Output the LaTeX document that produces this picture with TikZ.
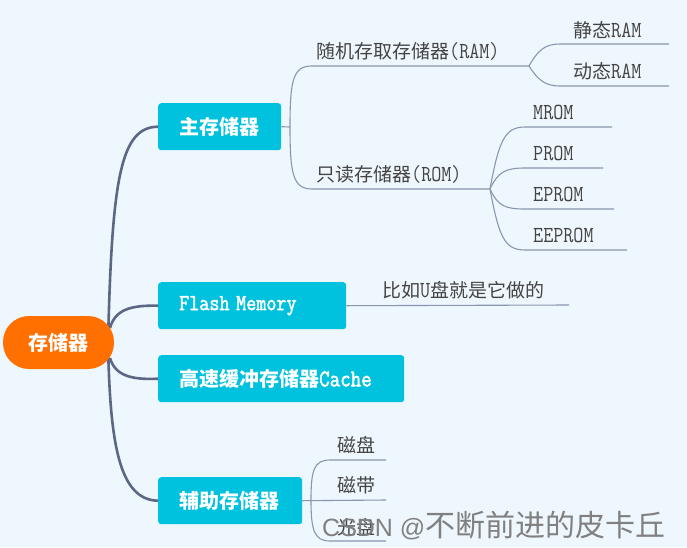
\documentclass[tikz,border=0pt]{standalone}
\usepackage{fontspec}
\newfontfamily\cjk{Noto Sans CJK SC}
\newfontfamily\wmsans{Liberation Sans}
\newfontfamily\narrowtt{Latin Modern Mono}[FakeStretch=0.85]
\newfontfamily\narrowttb{Latin Modern Mono}[FakeStretch=0.85, FakeBold=2]
\newcommand\mytt[1]{{\narrowtt\fontsize{23}{23}\selectfont #1}}
\definecolor{bgc}{HTML}{EEF7FD}
\definecolor{boxc}{HTML}{00C1DE}
\definecolor{rootc}{HTML}{FF7000}
\definecolor{trunkc}{HTML}{5B6785}
\definecolor{subc}{HTML}{8A96B0}
\definecolor{labc}{HTML}{444444}
\tikzset{
  box/.style={fill=boxc, rounded corners=3pt, inner xsep=21pt, inner ysep=0pt,
    minimum height=47pt, text=white, align=left, anchor=north west,
    font=\cjk\bfseries\fontsize{20}{20}\selectfont},
  rootbox/.style={fill=rootc, rounded corners=26pt, minimum width=111pt, minimum height=53pt,
    inner sep=0pt, text=white, font=\cjk\bfseries\fontsize{20}{20}\selectfont},
  lab/.style={anchor=base west, inner sep=0pt, text=labc, font=\cjk\fontsize{19}{19}\selectfont},
  trunk/.style={draw=trunkc, line width=2.6pt},
  sub/.style={draw=subc, line width=1.1pt},
}
\begin{document}
\begin{tikzpicture}[x=1pt,y=-1pt]
\fill[bgc] (0,0) rectangle (687,547);
\useasboundingbox (0,0) rectangle (687,547);

% trunk lines (behind root)
\coordinate (tr) at (108,343);
\node[box, text width=81pt] (main) at (158,103) {主存储器};
\node[box, text width=146pt] (flash) at (158,282) {\narrowttb\fontsize{23}{23}\selectfont Flash Memory};
\node[box, text width=204pt] (cache) at (158,355) {高速缓冲存储器{\narrowttb\fontsize{24}{24}\selectfont Cache}};
\node[box, text width=102pt] (aux) at (158,477) {辅助存储器};

\draw[trunk] (tr) .. controls (112,180) and (120,127) .. (main.west);
\draw[trunk] (tr) .. controls (110,440) and (118,500) .. (aux.west);
\draw[trunk] (110,328) .. controls (115,310) and (130,305) .. (flash.west);
\draw[trunk] (110,358) .. controls (115,375) and (130,380) .. (cache.west);

\node[rootbox] (root) at (58.5,342.5) {存储器};

% main memory branches
\coordinate (mf) at (290,127);
\coordinate (ramL) at (312,66);
\coordinate (ramR) at (529,66);
\coordinate (romL) at (312,189);
\coordinate (romR) at (490,189);
\draw[sub] (main.east) -- (mf);
\draw[sub] (mf) .. controls (290,80) and (293,66) .. (ramL) -- (ramR);
\draw[sub] (mf) .. controls (290,174) and (293,189) .. (romL) -- (romR);
\node[lab] (ram) at (316,58) {随机存取存储器\mytt{(RAM)}};
\node[lab] (rom) at (316,181) {只读存储器\mytt{(ROM)}};

% RAM children
\coordinate (sramL) at (560,44);
\coordinate (sramR) at (669,44);
\coordinate (dramL) at (560,86);
\coordinate (dramR) at (669,86);
\draw[sub] (ramR) .. controls (538,50) and (545,44) .. (sramL) -- (sramR);
\draw[sub] (ramR) .. controls (538,80) and (545,86) .. (dramL) -- (dramR);
\node[lab] (sram) at (573,37) {静态\mytt{RAM}};
\node[lab] (dram) at (573,78) {动态\mytt{RAM}};

% ROM children
\coordinate (mromL) at (525,127);
\coordinate (mromR) at (612,127);
\coordinate (promL) at (525,168);
\coordinate (promR) at (603,168);
\coordinate (epromL) at (525,209);
\coordinate (epromR) at (614,209);
\coordinate (eepromL) at (525,250);
\coordinate (eepromR) at (627,250);
\draw[sub] (romR) .. controls (499,140) and (505,127) .. (mromL) -- (mromR);
\draw[sub] (romR) .. controls (498,172) and (505,168) .. (promL) -- (promR);
\draw[sub] (romR) .. controls (498,206) and (505,209) .. (epromL) -- (epromR);
\draw[sub] (romR) .. controls (499,238) and (505,250) .. (eepromL) -- (eepromR);
\node[lab] (mrom) at (533,119) {\mytt{MROM}};
\node[lab] (prom) at (533,160) {\mytt{PROM}};
\node[lab] (eprom) at (533,201) {\mytt{EPROM}};
\node[lab] (eeprom) at (533,242) {\mytt{EEPROM}};

% flash note
\coordinate (noteR) at (569,305);
\draw[sub] (flash.east) -- (noteR);
\node[lab] (note) at (382,297) {比如\mytt{U}盘就是它做的};

% auxiliary children
\coordinate (af) at (311,500);
\coordinate (diskL) at (330,460);
\coordinate (diskR) at (386,460);
\coordinate (tapeR) at (386,500);
\coordinate (cdL) at (330,541);
\coordinate (cdR) at (386,541);
\draw[sub] (aux.east) -- (tapeR);
\draw[sub] (af) .. controls (311,470) and (314,460) .. (diskL) -- (diskR);
\draw[sub] (af) .. controls (311,530) and (314,541) .. (cdL) -- (cdR);
\node[lab] (disk) at (337,452) {磁盘};
\node[lab] (tape) at (337,492) {磁带};
\node[lab] (cd) at (337,534) {光盘};

% watermark
\node[anchor=base west, inner sep=0pt, text=black!50] (wm) at (322,536)
  {\wmsans\fontsize{25}{25}\selectfont CSDN @\cjk\fontsize{30}{30}\selectfont 不断前进的皮卡丘};
\end{tikzpicture}
\end{document}
